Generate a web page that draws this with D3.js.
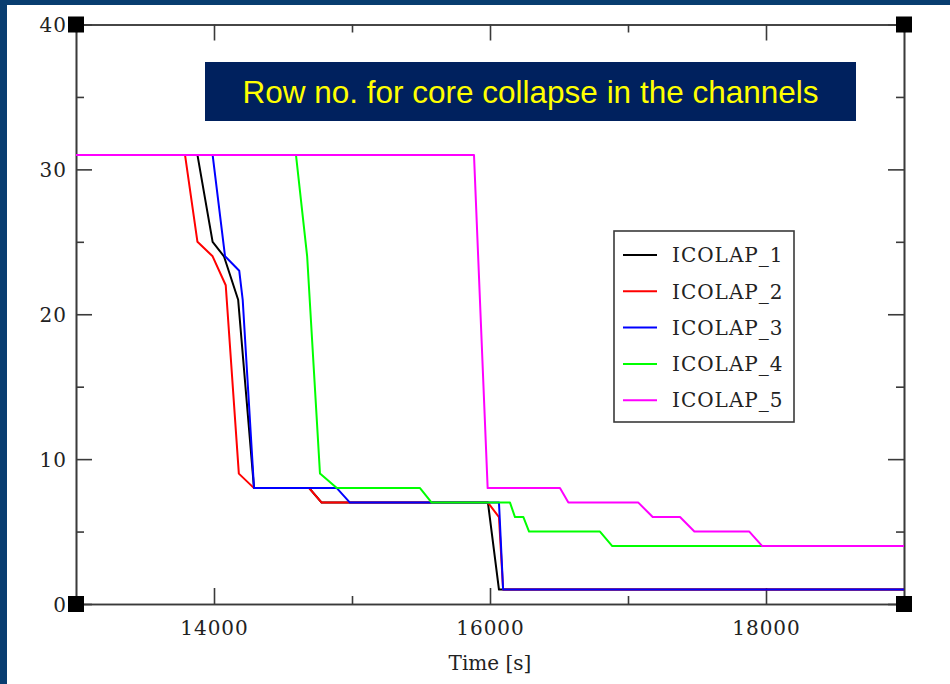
<!DOCTYPE html>
<html>
<head>
<meta charset="utf-8">
<script src="https://cdn.jsdelivr.net/npm/d3@7"></script>
<style>
  html, body { margin: 0; padding: 0; background: #ffffff; }
  svg { display: block; }
</style>
</head>
<body>
<script>
// ---------- data ----------
const seriesNames = ["ICOLAP_1", "ICOLAP_2", "ICOLAP_3", "ICOLAP_4", "ICOLAP_5"];
const seriesColors = ["#000000", "#ff0000", "#0000ff", "#00ff00", "#ff00ff"];

const time1 = [13000, 13880, 13990, 14072, 14175, 14290, 14690, 14780, 15985, 16065, 19000];
const vals1 = [31, 31, 25, 24, 21, 8, 8, 7, 7, 1, 1];

const time2 = [13000, 13790, 13880, 13990, 14085, 14180, 14290, 14690, 14780, 15985, 16065, 16095, 19000];
const vals2 = [31, 31, 25, 24, 22, 9, 8, 8, 7, 7, 6, 1, 1];

const time3 = [13000, 13990, 14080, 14183, 14208, 14290, 14890, 14985, 16065, 16095, 19000];
const vals3 = [31, 31, 24, 23, 21, 8, 8, 7, 7, 1, 1];

const time4 = [13000, 14594, 14675, 14768, 14890, 15493, 15577, 16145, 16181, 16242, 16283, 16797, 16886, 19000];
const vals4 = [31, 31, 24, 9, 8, 8, 7, 7, 6, 6, 5, 5, 4, 4];

const time5 = [13000, 15884, 15983, 16507, 16568, 17075, 17179, 17377, 17481, 17879, 17973, 19000];
const vals5 = [31, 31, 8, 8, 7, 7, 6, 6, 5, 5, 4, 4];

const xMajorTicks = [14000, 16000, 18000];
const xMinorTicks = [13000, 15000, 17000, 19000];
const yMajorTicks = [0, 10, 20, 30, 40];
const yMinorTicks = [5, 15, 25, 35];
const xDomain = [13000, 19000];
const yDomain = [0, 40];
const titleText = "Row no. for core collapse in the channels";
const xLabel = "Time [s]";

const series = [
  { name: seriesNames[0], color: seriesColors[0], t: time1, v: vals1 },
  { name: seriesNames[1], color: seriesColors[1], t: time2, v: vals2 },
  { name: seriesNames[2], color: seriesColors[2], t: time3, v: vals3 },
  { name: seriesNames[3], color: seriesColors[3], t: time4, v: vals4 },
  { name: seriesNames[4], color: seriesColors[4], t: time5, v: vals5 }
];

// ---------- layout ----------
const W = 950, H = 684;
const L = 76, R = 904, T = 24.5, B = 604;
const axisColor = "#3a3a3a";
const serif = "'DejaVu Serif', serif";

const svg = d3.select("body").append("svg").attr("width", W).attr("height", H);

// slide border
svg.append("rect").attr("x", 0).attr("y", 0).attr("width", 7).attr("height", H).attr("fill", "#083d70");
svg.append("rect").attr("x", 0).attr("y", 0).attr("width", W).attr("height", 5).attr("fill", "#083d70");

const x = d3.scaleLinear().domain(xDomain).range([L, R]);
const y = d3.scaleLinear().domain(yDomain).range([B, T]);

// ---------- axes ----------
function styleAxis(g, showText) {
  g.select(".domain").attr("stroke", axisColor).attr("stroke-width", 1.6);
  g.selectAll(".tick line").attr("stroke", axisColor).attr("stroke-width", 1.6);
  if (!showText) g.selectAll(".tick text").remove();
}

// bottom
const gB = svg.append("g").attr("transform", `translate(0,${B})`);
gB.append("g").call(d3.axisBottom(x).tickValues(xMinorTicks).tickSize(-8).tickSizeOuter(0)).call(g => styleAxis(g, false));
const gBm = gB.append("g").call(d3.axisBottom(x).tickValues(xMajorTicks).tickSize(-16).tickSizeOuter(0).tickFormat(d3.format("d")));
styleAxis(gBm, true);
gBm.selectAll(".tick text")
  .attr("y", 31).attr("dy", null)
  .attr("fill", "#222").attr("font-family", serif).attr("font-size", 20)
  .attr("letter-spacing", 1);

// top
const gT = svg.append("g").attr("transform", `translate(0,${T})`);
gT.append("g").call(d3.axisTop(x).tickValues(xMinorTicks).tickSize(-8).tickSizeOuter(0)).call(g => styleAxis(g, false));
gT.append("g").call(d3.axisTop(x).tickValues(xMajorTicks).tickSize(-16).tickSizeOuter(0)).call(g => styleAxis(g, false));

// left
const gL = svg.append("g").attr("transform", `translate(${L},0)`);
gL.append("g").call(d3.axisLeft(y).tickValues(yMinorTicks).tickSize(-8).tickSizeOuter(0)).call(g => styleAxis(g, false));
const gLm = gL.append("g").call(d3.axisLeft(y).tickValues(yMajorTicks).tickSize(-16).tickSizeOuter(0).tickFormat(d3.format("d")));
styleAxis(gLm, true);
gLm.selectAll(".tick text")
  .attr("x", -9).attr("dy", "0.36em")
  .attr("fill", "#222").attr("font-family", serif).attr("font-size", 20)
  .attr("letter-spacing", 1);

// right
const gR = svg.append("g").attr("transform", `translate(${R},0)`);
gR.append("g").call(d3.axisRight(y).tickValues(yMinorTicks).tickSize(-8).tickSizeOuter(0)).call(g => styleAxis(g, false));
gR.append("g").call(d3.axisRight(y).tickValues(yMajorTicks).tickSize(-16).tickSizeOuter(0)).call(g => styleAxis(g, false));

// ---------- lines ----------
const line = d3.line().x(d => x(d[0])).y(d => y(d[1]));
svg.append("g").selectAll("path")
  .data(series)
  .join("path")
  .attr("d", s => line(s.t.map((t, i) => [t, s.v[i]])))
  .attr("fill", "none")
  .attr("stroke", s => s.color)
  .attr("stroke-width", 2)
  .attr("stroke-linejoin", "round");

// corner squares
const corners = [[xDomain[0], yDomain[0]], [xDomain[1], yDomain[0]], [xDomain[0], yDomain[1]], [xDomain[1], yDomain[1]]];
svg.append("g").selectAll("rect")
  .data(corners)
  .join("rect")
  .attr("x", d => x(d[0]) - 8).attr("y", d => y(d[1]) - 8)
  .attr("width", 16).attr("height", 16)
  .attr("fill", "#000");

// x label
svg.append("text")
  .attr("x", 490).attr("y", 670)
  .attr("text-anchor", "middle")
  .attr("font-family", serif).attr("font-size", 20)
  .attr("fill", "#222")
  .text(xLabel);

// ---------- title box ----------
svg.append("rect").attr("x", 205).attr("y", 62).attr("width", 651).attr("height", 59).attr("fill", "#00215e");
svg.append("text")
  .attr("x", 530.5).attr("y", 103)
  .attr("text-anchor", "middle")
  .attr("font-family", "'Liberation Sans', Arial, sans-serif")
  .attr("font-size", 31.5)
  .attr("fill", "#ffff00")
  .text(titleText);

// ---------- legend ----------
const lg = svg.append("g");
lg.append("rect").attr("x", 614).attr("y", 231).attr("width", 180).attr("height", 191)
  .attr("fill", "#fff").attr("stroke", axisColor).attr("stroke-width", 1.6);
const items = lg.selectAll("g.item").data(series).join("g")
  .attr("class", "item")
  .attr("transform", (d, i) => `translate(0,${255 + i * 36.3})`);
items.append("line").attr("x1", 623).attr("x2", 657).attr("y1", 0).attr("y2", 0)
  .attr("stroke", d => d.color).attr("stroke-width", 2);
items.append("text").attr("x", 672).attr("y", 0).attr("dy", "0.36em")
  .attr("font-family", serif).attr("font-size", 20).attr("fill", "#222")
  .attr("letter-spacing", 1)
  .text(d => d.name);
</script>
</body>
</html>
